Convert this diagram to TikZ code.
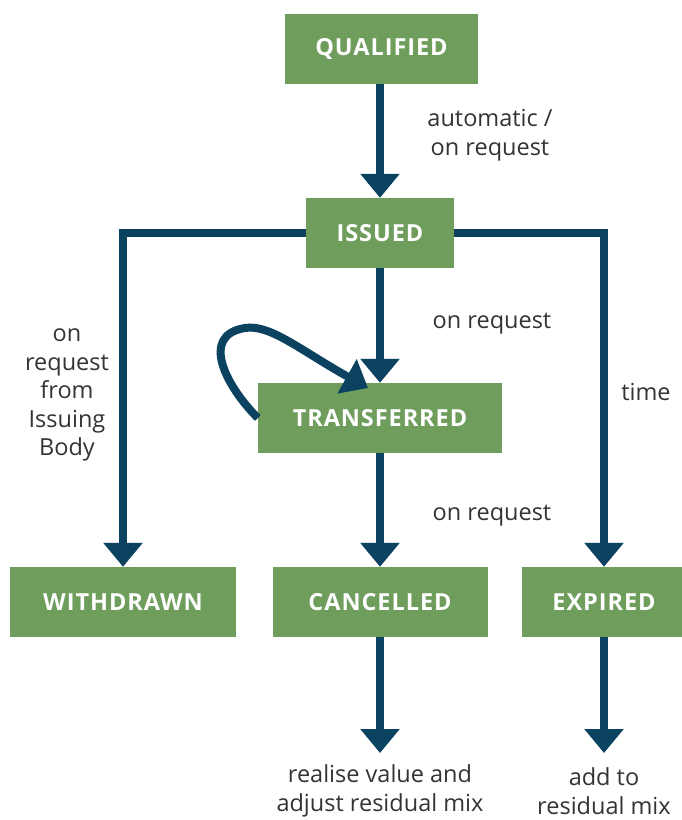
\documentclass[tikz,border=0pt]{standalone}
\usepackage{fontspec}
\setmainfont{Open Sans}
\newfontfamily\boxfont[LetterSpace=4]{Open Sans}
\usetikzlibrary{arrows.meta}
\definecolor{boxgreen}{HTML}{6E9D5C}
\definecolor{arrowblue}{HTML}{0A4260}
\definecolor{txt}{HTML}{333333}
\newcommand{\boxlbl}[1]{\raisebox{-1.5pt}{#1}}
\begin{document}
\begin{tikzpicture}[x=1pt,y=-1pt,
 state/.style={fill=boxgreen, draw=none, text=white, font=\boxfont\bfseries\fontsize{23.5}{27}\selectfont, inner sep=0pt, minimum height=70pt, anchor=center},
 conn/.style={draw=arrowblue, line width=8pt, -{Triangle[width=38pt,length=24pt]}},
 lbl/.style={text=txt, font=\fontsize{23.5}{28.5}\selectfont, align=center, inner sep=0pt}]
\useasboundingbox (0,0) rectangle (681,820);
\node[state, minimum width=193pt] (q) at (381.5,49) {\boxlbl{QUALIFIED}};
\node[state, minimum width=148pt] (i) at (380,233) {\boxlbl{ISSUED}};
\node[state, minimum width=244pt] (t) at (380,418) {\boxlbl{TRANSFERRED}};
\node[state, minimum width=226pt] (w) at (123,602) {\boxlbl{WITHDRAWN}};
\node[state, minimum width=215pt] (c) at (380,602) {\boxlbl{CANCELLED}};
\node[state, minimum width=164pt] (e) at (604,602) {\boxlbl{EXPIRED}};
\coordinate (cend) at (380,753);
\coordinate (eend) at (604,753);
\coordinate (looptip) at (368,388);
\draw[conn] (i.north |- q.south) -- (i.north);
\draw[conn] (i.south) -- (t.north);
\draw[conn] (t.south) -- (c.north);
\draw[conn] (c.south) -- (cend);
\draw[conn] (e.south) -- (eend);
\draw[conn] (i.west) -| (w.north);
\draw[conn] (i.east) -| (e.north);
\draw[conn] (t.west) .. controls (225,385) and (200,335) .. (245,328) .. controls (270,324) and (300,350) .. (looptip);
\node[lbl] (l1) at (490,135) {automatic /\\on request};
\node[lbl] (l2) at (492,324) {on request};
\node[lbl] (l3) at (67,395) {on\\request\\from\\Issuing\\Body};
\node[lbl] (l4) at (646,392) {time};
\node[lbl] (l5) at (492,516) {on request};
\node[lbl] (l6) at (380,791) {realise value and\\adjust residual mix};
\node[lbl] (l7) at (604,791) {add to\\residual mix};
\end{tikzpicture}
\end{document}
